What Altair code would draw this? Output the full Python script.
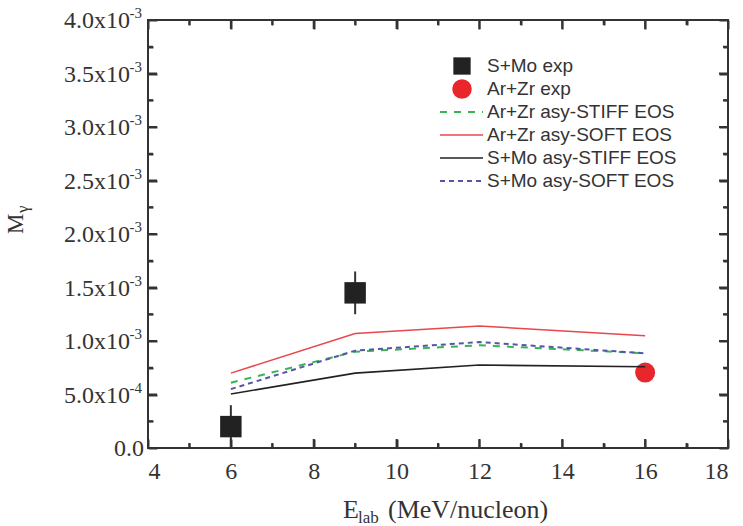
import altair as alt
import pandas as pd

# ---------------- data ----------------
energies = [6, 9, 12, 16]
arzr_stiff = [0.61e-3, 0.90e-3, 0.96e-3, 0.885e-3]
arzr_soft = [0.70e-3, 1.07e-3, 1.14e-3, 1.05e-3]
smo_stiff = [0.505e-3, 0.70e-3, 0.775e-3, 0.76e-3]
smo_soft = [0.55e-3, 0.91e-3, 0.99e-3, 0.885e-3]

smo_exp_x = [6, 9]
smo_exp_y = [0.20e-3, 1.45e-3]
smo_exp_err = [0.20e-3, 0.20e-3]

arzr_exp_x = [16]
arzr_exp_y = [0.705e-3]

x_major = [4, 6, 8, 10, 12, 14, 16, 18]
x_minor = [5, 7, 9, 11, 13, 15, 17]
y_major = [0.0, 0.5e-3, 1.0e-3, 1.5e-3, 2.0e-3, 2.5e-3, 3.0e-3, 3.5e-3, 4.0e-3]
y_minor = [0.25e-3, 0.75e-3, 1.25e-3, 1.75e-3, 2.25e-3, 2.75e-3, 3.25e-3, 3.75e-3]
y_main_labels = ["0.0", "5.0x10", "1.0x10", "1.5x10", "2.0x10", "2.5x10", "3.0x10", "3.5x10", "4.0x10"]
y_sup_labels = ["", "-4", "-3", "-3", "-3", "-3", "-3", "-3", "-3"]

legend_labels = ["S+Mo exp", "Ar+Zr exp", "Ar+Zr asy-STIFF EOS", "Ar+Zr asy-SOFT EOS",
                 "S+Mo asy-STIFF EOS", "S+Mo asy-SOFT EOS"]

# ---------------- styles ----------------
RED = "#e8474d"
GREEN = "#36b556"
BLUE = "#5555a8"
BLACK = "#222222"
DOT_RED = "#e8262c"
SERIF = "Liberation Serif"
SANS = "Liberation Sans"

W, H = 580, 428
PAD = {"left": 148, "top": 20, "right": 15, "bottom": 78}
X_MIN, X_MAX, Y_MIN, Y_MAX = 4, 18, 0.0, 0.004
MAJOR_PX, MINOR_PX, TICK_W = 9, 5, 2
PX_X = (X_MAX - X_MIN) / W   # data units per pixel along x
PX_Y = (Y_MAX - Y_MIN) / H   # data units per pixel along y

xs = alt.Scale(domain=[X_MIN, X_MAX], nice=False, zero=False)
ys = alt.Scale(domain=[Y_MIN, Y_MAX], nice=False, zero=False)


def xenc(field="x", axis=None):
    return alt.X(f"{field}:Q", scale=xs, axis=axis)


def yenc(field="y", axis=None):
    return alt.Y(f"{field}:Q", scale=ys, axis=axis)


layers = []

# ---- axes: one label axis + inward tick axes (negative offset) on all sides ----
anchor_df = pd.DataFrame({"x": [X_MIN], "y": [Y_MIN]})

X_LABEL_AXIS = alt.Axis(orient="bottom", values=x_major, labelFont=SERIF, labelFontSize=24,
                        labelColor="#333", ticks=False, domain=False, grid=False,
                        labelPadding=11, title=None, format="d")
layers.append(alt.Chart(anchor_df).mark_point(opacity=0).encode(
    x=xenc(axis=X_LABEL_AXIS), y=yenc()))


def tick_axis(orient, vals, px):
    return alt.Axis(orient=orient, values=vals, labels=False, domain=False, grid=False,
                    ticks=True, tickSize=px, tickWidth=TICK_W, tickColor="#333",
                    offset=-px, title=None, zindex=1)

for orient in ("bottom", "top"):
    for vals, px in ((x_major, MAJOR_PX), (x_minor, MINOR_PX)):
        layers.append(alt.Chart(anchor_df).mark_point(opacity=0).encode(
            x=xenc(axis=tick_axis(orient, vals, px)), y=yenc()))
for orient in ("left", "right"):
    for vals, px in ((y_major, MAJOR_PX), (y_minor, MINOR_PX)):
        layers.append(alt.Chart(anchor_df).mark_point(opacity=0).encode(
            x=xenc(), y=yenc(axis=tick_axis(orient, vals, px))))


# ---- inward ticks also drawn as thin rectangles in data space ----
def xtick_rects(vals, px, edge, direction):
    df = pd.DataFrame({"c": vals})
    df["a"] = df["c"] - PX_X * TICK_W / 2
    df["b"] = df["c"] + PX_X * TICK_W / 2
    df["p"] = edge
    df["q"] = edge + direction * px * PX_Y
    return alt.Chart(df).mark_rect(color="#333333", opacity=1).encode(
        x=xenc("a"), x2="b:Q", y=yenc("p"), y2="q:Q")


def ytick_rects(vals, px, edge, direction):
    df = pd.DataFrame({"c": vals})
    df["a"] = df["c"] - PX_Y * TICK_W / 2
    df["b"] = df["c"] + PX_Y * TICK_W / 2
    df["p"] = edge
    df["q"] = edge + direction * px * PX_X
    return alt.Chart(df).mark_rect(color="#333333", opacity=1).encode(
        y=yenc("a"), y2="b:Q", x=xenc("p"), x2="q:Q")

layers.append(xtick_rects(x_major, MAJOR_PX, Y_MIN, 1))
layers.append(xtick_rects(x_minor, MINOR_PX, Y_MIN, 1))
layers.append(xtick_rects(x_major, MAJOR_PX, Y_MAX, -1))
layers.append(xtick_rects(x_minor, MINOR_PX, Y_MAX, -1))
layers.append(ytick_rects(y_major, MAJOR_PX, X_MIN, 1))
layers.append(ytick_rects(y_minor, MINOR_PX, X_MIN, 1))
layers.append(ytick_rects(y_major, MAJOR_PX, X_MAX, -1))
layers.append(ytick_rects(y_minor, MINOR_PX, X_MAX, -1))

# y tick labels (mantissa + superscript exponent)
ylab_df = pd.DataFrame({"y": y_major, "main": y_main_labels, "sup": y_sup_labels})
ylab = alt.Chart(ylab_df)
layers.append(ylab.transform_filter("datum.sup != ''").mark_text(
    font=SERIF, fontSize=24, color="#333", align="right", baseline="middle", dy=1).encode(
    x=alt.value(-18), y=yenc(), text="main:N"))
layers.append(ylab.transform_filter("datum.sup == ''").mark_text(
    font=SERIF, fontSize=24, color="#333", align="right", baseline="middle", dy=1).encode(
    x=alt.value(-4), y=yenc(), text="main:N"))
layers.append(ylab.transform_filter("datum.sup != ''").mark_text(
    font=SERIF, fontSize=15, color="#333", align="right", baseline="middle", dy=-7).encode(
    x=alt.value(-6), y=yenc(), text="sup:N"))

# experimental points
err_df = pd.DataFrame({"x": smo_exp_x, "y": smo_exp_y, "e": smo_exp_err})
err_df["lo"] = err_df["y"] - err_df["e"]
err_df["hi"] = err_df["y"] + err_df["e"]
layers.append(alt.Chart(err_df).mark_rule(color="#333", strokeWidth=2).encode(
    x=xenc(), y=yenc("lo"), y2="hi:Q"))
layers.append(alt.Chart(err_df).mark_square(size=460, color=BLACK, opacity=1).encode(
    x=xenc(), y=yenc()))
arzr_df = pd.DataFrame({"x": arzr_exp_x, "y": arzr_exp_y})
layers.append(alt.Chart(arzr_df).mark_circle(size=400, color=DOT_RED, opacity=1).encode(
    x=xenc(), y=yenc()))

# model lines
series = [
    (arzr_stiff, GREEN, [7, 7], 2),
    (arzr_soft, RED, None, 1.5),
    (smo_stiff, BLACK, None, 1.6),
    (smo_soft, BLUE, [5, 4], 2),
]
for vals, col, dash, sw in series:
    df = pd.DataFrame({"x": energies, "y": vals})
    kw = dict(color=col, strokeWidth=sw)
    if dash:
        kw["strokeDash"] = dash
    layers.append(alt.Chart(df).mark_line(**kw).encode(x=xenc(), y=yenc()))

# legend (manual)
one = pd.DataFrame({"k": [0]})
row_y = [46, 69, 92, 115, 138, 161]
sym_x, line_x1, line_x2, text_x = 314, 292, 335, 339
layers.append(alt.Chart(one).mark_square(size=300, color=BLACK, opacity=1).encode(
    x=alt.value(sym_x), y=alt.value(row_y[0])))
layers.append(alt.Chart(one).mark_circle(size=380, color=DOT_RED, opacity=1).encode(
    x=alt.value(sym_x), y=alt.value(row_y[1])))
for (vals, col, dash, sw), ry in zip(series, row_y[2:]):
    kw = dict(color=col, strokeWidth=sw)
    if dash:
        kw["strokeDash"] = dash
    layers.append(alt.Chart(one).mark_rule(**kw).encode(
        x=alt.value(line_x1), x2=alt.value(line_x2), y=alt.value(ry)))
for lab, ry in zip(legend_labels, row_y):
    layers.append(alt.Chart(one).mark_text(font=SANS, fontSize=19, color="#333",
                                           align="left", baseline="middle").encode(
        x=alt.value(text_x), y=alt.value(ry), text=alt.value(lab)))

# axis titles
layers.append(alt.Chart(one).mark_text(font=SERIF, fontSize=26, color="#333",
                                       align="left", baseline="alphabetic").encode(
    x=alt.value(195), y=alt.value(498), text=alt.value("E")))
layers.append(alt.Chart(one).mark_text(font=SERIF, fontSize=17, color="#333",
                                       align="left", baseline="alphabetic").encode(
    x=alt.value(210), y=alt.value(503), text=alt.value("lab")))
layers.append(alt.Chart(one).mark_text(font=SERIF, fontSize=26, color="#333",
                                       align="left", baseline="alphabetic").encode(
    x=alt.value(240), y=alt.value(498), text=alt.value("(MeV/nucleon)")))
layers.append(alt.Chart(one).mark_text(font=SERIF, fontSize=23, color="#333", angle=270,
                                       align="left", baseline="alphabetic").encode(
    x=alt.value(-125), y=alt.value(214), text=alt.value("M")))
layers.append(alt.Chart(one).mark_text(font=SERIF, fontSize=17, color="#333", angle=270,
                                       align="left", baseline="alphabetic").encode(
    x=alt.value(-120), y=alt.value(193), text=alt.value("γ")))

chart = alt.layer(*layers).resolve_axis(x="independent", y="independent").properties(
    width=W, height=H, padding=PAD, autosize=alt.AutoSizeParams(type="none"),
    background="white"
).configure_view(stroke="#333", strokeWidth=2)

chart.save("out.html", embed_options={"renderer": "svg", "actions": False})
